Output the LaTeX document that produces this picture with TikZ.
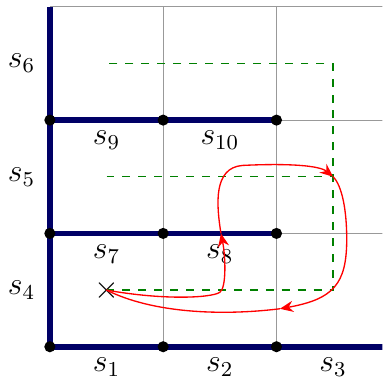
\documentclass[tikz,border=0pt]{standalone}
\usepackage{tikz}
\usetikzlibrary{arrows.meta}
\definecolor{wallnavy}{RGB}{0,0,102}
\definecolor{routegreen}{RGB}{0,128,0}
\tikzset{
  gridline/.style = {draw=gray!80, line width=0.4pt},
  wall/.style     = {draw=wallnavy, line width=2.2pt},
  corner/.style   = {circle, fill=black, inner sep=0pt, minimum size=4.2pt},
  route/.style    = {draw=routegreen, line width=0.5pt, dashed},
  walk/.style     = {draw=red, line width=0.5pt, -{Stealth[length=5pt, width=4.2pt]}},
  statelbl/.style = {font=\large, inner sep=1pt}
}

\begin{document}
\begin{tikzpicture}[x=1.5cm, y=1.5cm]
  \useasboundingbox (-0.44,-0.32) rectangle (2.935,3.06);
  \clip (-0.44,-0.32) rectangle (2.935,3.06);

  \foreach \k in {1,2,3} {
    \draw[gridline] (\k,0) -- (\k,3);
    \draw[gridline] (0,\k) -- (3.5,\k);
  }
  \draw[wall] (0,3) -- (0,0) -- (3.5,0);
  \draw[wall] (0,1) -- (2,1);
  \draw[wall] (0,2) -- (2,2);

  \foreach \i in {0,1,2}
    \foreach \j in {0,1,2}
      \node[corner] (c\i\j) at (\i,\j) {};

  \node[statelbl] (s1)  at (0.5,-0.18)  {$s_1$};
  \node[statelbl] (s2)  at (1.5,-0.18)  {$s_2$};
  \node[statelbl] (s3)  at (2.5,-0.18)  {$s_3$};
  \node[statelbl] (s4)  at (-0.25,0.5)  {$s_4$};
  \node[statelbl] (s5)  at (-0.25,1.5)  {$s_5$};
  \node[statelbl] (s6)  at (-0.25,2.5)  {$s_6$};
  \node[statelbl] (s7)  at (0.5,0.82)   {$s_7$};
  \node[statelbl] (s8)  at (1.5,0.82)   {$s_8$};
  \node[statelbl] (s9)  at (0.5,1.82)   {$s_9$};
  \node[statelbl] (s10) at (1.5,1.82)   {$s_{10}$};

  \node[font=\large, inner sep=0pt] (start) at (0.5,0.5) {$\times$};

  \coordinate (g1) at (2.5,0.5);
  \coordinate (g2) at (2.5,2.5);
  \coordinate (g3) at (0.5,2.5);
  \coordinate (h1) at (0.5,1.5);
  \coordinate (h2) at (2.5,1.5);
  \draw[route] (start.center) -- (g1) -- (g2) -- (g3);
  \draw[route] (h1) -- (h2);

  \coordinate (w1) at (1.51,1.0);
  \coordinate (w2) at (2.5,1.5);
  \coordinate (w3) at (2.03,0.335);
  \draw[walk] (start.center) .. controls (1.0,0.41) and (1.42,0.43) .. (1.5,0.48)
    .. controls (1.56,0.52) and (1.55,0.8) .. (w1);
  \draw[walk] (w1) .. controls (1.47,1.25) and (1.44,1.58) .. (1.7,1.6)
    .. controls (2.1,1.62) and (2.38,1.6) .. (w2);
  \draw[walk] (w2) .. controls (2.58,1.42) and (2.62,1.2) .. (2.62,0.95)
    .. controls (2.62,0.55) and (2.5,0.42) .. (w3);
  \draw[walk, -] (w3) .. controls (1.5,0.27) and (0.9,0.3) .. (start.center);
\end{tikzpicture}
\end{document}
